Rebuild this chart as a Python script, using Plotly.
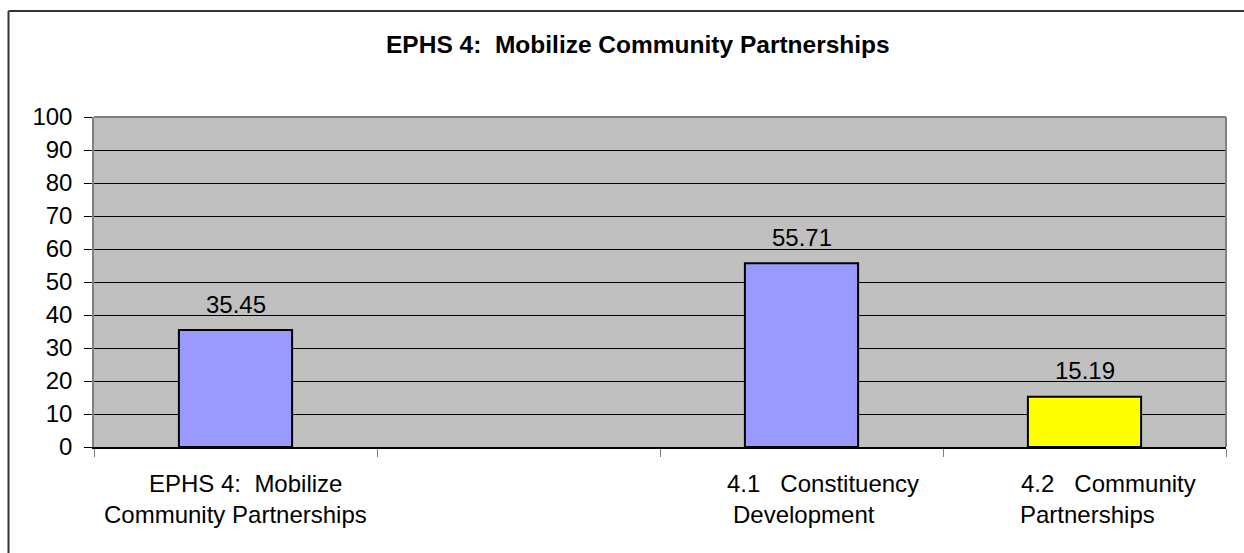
import plotly.graph_objects as go

# ---- data ----
label_line1 = ["EPHS 4:\u00a0\u00a0Mobilize", "", "4.1\u00a0\u00a0\u00a0Constituency", "4.2\u00a0\u00a0\u00a0Community"]
label_line2 = ["Community Partnerships", "", "Development", "Partnerships"]
values = [35.45, None, 55.71, 15.19]
bar_colors = ["#9999FF", "#9999FF", "#9999FF", "#FFFF00"]
y_ticks = [0, 10, 20, 30, 40, 50, 60, 70, 80, 90, 100]
title_text = "EPHS 4:\u00a0\u00a0Mobilize Community Partnerships"

# ---- layout constants ----
W, H = 1244, 553
ML, MR, MT, MB = 94, 18, 117, 106
PW, PH = W - ML - MR, H - MT - MB
FONT = "Liberation Sans, Arial, sans-serif"
FS = 24
TFS = 24.5
line1_dx = [10, 0, 21, 24]
line2_dx = [0, 0, 2, 3]

def px_x(p):
    return (p - ML) / PW

def px_y(p):
    return (H - MB - p) / PH

x_idx = list(range(len(values)))

fig = go.Figure()
fig.add_trace(go.Bar(
    x=x_idx, y=values, width=0.4,
    marker=dict(color=bar_colors, line=dict(color="#000000", width=2)),
    hoverinfo="skip", showlegend=False,
))

annotations = []
for i, v in enumerate(values):
    if v is not None:
        annotations.append(dict(x=i, y=v, xref="x", yref="y", text=f"{v:.2f}",
                                showarrow=False, yanchor="middle", yshift=26,
                                font=dict(family=FONT, size=FS, color="#000")))
    if label_line1[i]:
        annotations.append(dict(x=i, y=0, xref="x", yref="y", text=label_line1[i],
                                showarrow=False, yanchor="middle", yshift=-36, xshift=line1_dx[i],
                                font=dict(family=FONT, size=FS, color="#000")))
    if label_line2[i]:
        annotations.append(dict(x=i, y=0, xref="x", yref="y", text=label_line2[i],
                                showarrow=False, yanchor="middle", yshift=-67, xshift=line2_dx[i],
                                font=dict(family=FONT, size=FS, color="#000")))
annotations.append(dict(x=px_x(638), y=px_y(44), xref="paper", yref="paper",
                        text="<b>" + title_text + "</b>", showarrow=False,
                        xanchor="center", yanchor="middle",
                        font=dict(family=FONT, size=TFS, color="#000")))

shapes = [
    # outer chart border (left & top visible)
    dict(type="line", xref="paper", yref="paper", x0=px_x(8.5), x1=px_x(1300),
         y0=px_y(11), y1=px_y(11), line=dict(color="#333333", width=2)),
    dict(type="line", xref="paper", yref="paper", x0=px_x(8.5), x1=px_x(8.5),
         y0=px_y(11), y1=px_y(600), line=dict(color="#333333", width=2)),
    # plot area top and right border (gray)
    dict(type="line", xref="paper", yref="paper", x0=0, x1=1, y0=1, y1=1,
         line=dict(color="#808080", width=2)),
    dict(type="line", xref="paper", yref="paper", x0=1, x1=1, y0=0, y1=1,
         line=dict(color="#808080", width=2)),
]

fig.update_layout(
    width=W, height=H,
    margin=dict(l=ML, r=MR, t=MT, b=MB, pad=0),
    paper_bgcolor="#FFFFFF", plot_bgcolor="#C0C0C0",
    font=dict(family=FONT, size=FS, color="#000"),
    annotations=annotations, shapes=shapes,
    xaxis=dict(range=[-0.5, 3.5], tickmode="array", tickvals=[-0.5, 0.5, 1.5, 2.5, 3.5],
               showticklabels=False, ticks="outside", ticklen=8, tickcolor="#808080",
               showgrid=False, zeroline=False, showline=True, linecolor="#000000", linewidth=1.5,
               fixedrange=True),
    yaxis=dict(range=[0, 100], tickmode="array", tickvals=y_ticks,
               ticks="outside", ticklen=8, tickcolor="#000000", ticklabelstandoff=7,
               showgrid=True, gridcolor="#000000", gridwidth=1, zeroline=False,
               showline=True, linecolor="#808080", linewidth=1.5,
               tickfont=dict(family=FONT, size=FS, color="#000"), fixedrange=True),
)

fig.write_html("out.html")
